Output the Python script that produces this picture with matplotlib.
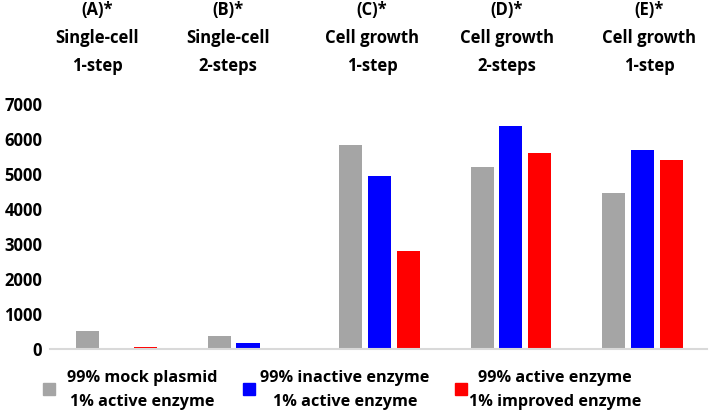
import numpy as np
import matplotlib
matplotlib.use("Agg")
import matplotlib.pyplot as plt
from matplotlib.patches import Rectangle

plt.rcParams['font.family'] = ['Open Sans', 'DejaVu Sans']

# group headers and values
groups = ["(A)*\nSingle-cell\n1-step", "(B)*\nSingle-cell\n2-steps",
          "(C)*\nCell growth\n1-step", "(D)*\nCell growth\n2-steps",
          "(E)*\nCell growth\n1-step"]
mock = [500, 370, 5830, 5200, 4460]
inactive = [0, 180, 4940, 6370, 5690]
active = [60, 30, 2800, 5600, 5400]

series_labels = ["99% mock plasmid\n1% active enzyme",
                 "99% inactive enzyme\n1% active enzyme",
                 "99% active enzyme\n1% improved enzyme"]
colors = ["#A5A5A5", "#0000FF", "#FF0000"]
yticks = [0, 1000, 2000, 3000, 4000, 5000, 6000, 7000]

fig = plt.figure(figsize=(7.09, 4.12), dpi=100)
ax = fig.add_axes([0.0705, 0.153, 0.9265, 0.595])

x = np.arange(len(groups))
w = 0.175
step = 0.22
for i, (vals, c) in enumerate(zip([mock, inactive, active], colors)):
    ax.bar(x + (i - 1) * step, vals, width=w, color=c, zorder=2)

ax.set_xlim(-0.506, 4.49)
ax.set_ylim(0, 7000)
ax.set_yticks(yticks)
ax.set_yticklabels([str(t) for t in yticks], fontsize=12, fontweight='bold')
ax.tick_params(axis='y', length=0, pad=5.5)
ax.set_xticks([])
for s in ['top', 'right', 'left']:
    ax.spines[s].set_visible(False)
ax.spines['bottom'].set_color('#D9D9D9')
ax.spines['bottom'].set_linewidth(1.5)

# group headers at the top of the figure
label_offsets = [-0.148, -0.152, -0.057, -0.03, 0.05]
for xi, (g, off) in enumerate(zip(groups, label_offsets)):
    xf = fig.transFigure.inverted().transform(ax.transData.transform((xi + off, 0)))[0]
    fig.text(xf, 0.908, g, ha='center', va='center', fontsize=12,
             fontweight='bold', linespacing=1.72)

# legend at the bottom
leg_sq = [0.0606, 0.343, 0.642]
leg_txt = [0.2003, 0.4866, 0.783]
for sq, tx, lab, c in zip(leg_sq, leg_txt, series_labels, colors):
    fig.patches.append(Rectangle((sq, 0.0413), 0.0169, 0.029, color=c,
                                 transform=fig.transFigure, figure=fig))
    fig.text(tx, 0.0534, lab, ha='center', va='center', fontsize=11.7,
             fontweight='bold', linespacing=1.65)

fig.savefig("out.png", dpi=100)
